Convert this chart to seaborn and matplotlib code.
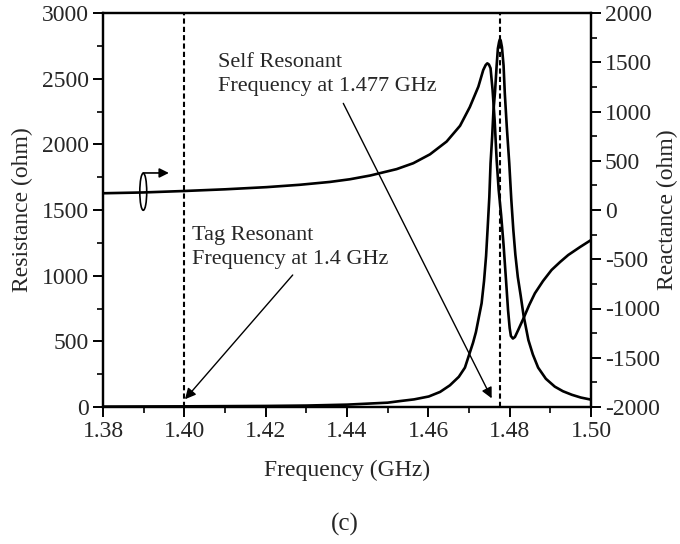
import numpy as np
import pandas as pd
import matplotlib
matplotlib.use("Agg")
import matplotlib.pyplot as plt
from matplotlib.patches import Ellipse
from matplotlib.ticker import MultipleLocator
import seaborn as sns

# ---------------- data ----------------
res_freq = [1.3800, 1.4000, 1.4200, 1.4300, 1.4400, 1.4500, 1.4530, 1.4565,
            1.4601, 1.4629, 1.4653, 1.4675, 1.4690, 1.4700, 1.4710, 1.4717,
            1.4724, 1.4731, 1.4737, 1.4742, 1.4746, 1.4750, 1.4753, 1.4757,
            1.4760, 1.4764, 1.4768, 1.4771, 1.4774, 1.4776, 1.4778, 1.4781,
            1.4785, 1.4788, 1.4793, 1.4799, 1.4804, 1.4809, 1.4814, 1.4820,
            1.4827, 1.4834, 1.4846, 1.4857, 1.4870, 1.4889, 1.4911, 1.4931,
            1.4953, 1.4975, 1.5000]
resistance = [3, 5, 8, 11, 18, 33, 45, 58,
              80, 115, 165, 230, 300, 395, 490, 570,
              680, 790, 960, 1150, 1370, 1600, 1856, 2060,
              2250, 2400, 2600, 2730, 2780, 2800, 2790, 2740,
              2600, 2390, 2130, 1856, 1580, 1348, 1160, 990,
              850, 700, 510, 400, 300, 215, 155, 120,
              93, 72, 56]

rea_freq = [1.3800, 1.3898, 1.4000, 1.4100, 1.4202, 1.4284, 1.4358, 1.4407,
            1.4457, 1.4522, 1.4563, 1.4604, 1.4645, 1.4678, 1.4702, 1.4723,
            1.4735, 1.4741, 1.4745, 1.4749, 1.4753, 1.4758, 1.4763, 1.4768,
            1.4773, 1.4779, 1.4785, 1.4791, 1.4796, 1.4800, 1.4803, 1.4808,
            1.4813, 1.4821, 1.4834, 1.4848, 1.4862, 1.4882, 1.4903, 1.4924,
            1.4944, 1.4973, 1.5000]
reactance = [170, 178, 193, 210, 232, 256, 285, 312,
             350, 415, 475, 565, 695, 855, 1045, 1252,
             1421, 1472, 1489, 1477, 1439, 1218, 914, 508,
             203, -51, -355, -711, -1015, -1198, -1279, -1305,
             -1289, -1218, -1100, -965, -846, -721, -609, -528,
             -457, -376, -305]

tag_freq = 1.400
self_freq = 1.4776

x_ticks = [1.38, 1.40, 1.42, 1.44, 1.46, 1.48, 1.50]
x_tick_labels = ["1.38", "1.40", "1.42", "1.44", "1.46", "1.48", "1.50"]
left_ticks = [0, 500, 1000, 1500, 2000, 2500, 3000]
right_ticks = [-2000, -1500, -1000, -500, 0, 500, 1000, 1500, 2000]

# ---------------- style ----------------
sns.set_style("ticks")
plt.rcParams["font.family"] = ["Liberation Serif", "DejaVu Serif"]
FS = 17
FS_ANN = 16

fig = plt.figure(figsize=(6.8, 5.44), dpi=100)
ax = fig.add_axes([103 / 680, 1 - 407 / 544, (591 - 103) / 680, (407 - 13) / 544])
ax2 = ax.twinx()

df_r = pd.DataFrame({"f": res_freq, "R": resistance})
df_x = pd.DataFrame({"f": rea_freq, "X": reactance})

sns.lineplot(data=df_r, x="f", y="R", ax=ax, color="black", lw=1.9,
             estimator=None, sort=False, legend=False)
sns.lineplot(data=df_x, x="f", y="X", ax=ax2, color="black", lw=1.9,
             estimator=None, sort=False, legend=False)

ax.set_xlim(1.38, 1.50)
ax.set_ylim(0, 3000)
ax2.set_ylim(-2000, 2000)

for xv in (tag_freq, self_freq):
    ax.axvline(xv, color="black", lw=1.5, ls=(0, (2.5, 1.5)), zorder=1)

# ticks
ax.set_xticks(x_ticks)
ax.set_xticklabels(x_tick_labels)
ax.xaxis.set_minor_locator(MultipleLocator(0.01))
ax.set_yticks(left_ticks)
ax.yaxis.set_minor_locator(MultipleLocator(250))
ax2.set_yticks(right_ticks)
ax2.yaxis.set_minor_locator(MultipleLocator(250))

for a in (ax, ax2):
    a.tick_params(which="major", direction="out", length=7, width=1.4,
                  labelsize=FS, pad=3, color="black")
    a.tick_params(which="minor", direction="out", length=4, width=1.2, color="black")
    for s in a.spines.values():
        s.set_visible(True)
        s.set_linewidth(1.6)
        s.set_color("black")
ax.tick_params(top=False, which="both")
ax.tick_params(axis="y", right=False, which="both")
ax2.tick_params(axis="y", left=False, which="both")
ax2.set_yticklabels([str(v) for v in right_ticks])

ax.set_xlabel("")
ax.set_ylabel("")
ax2.set_ylabel("")
fig.text(22 / 680, 1 - 210 / 544, "Resistance (ohm)", fontsize=FS,
         rotation=90, ha="center", va="center")
fig.text(667 / 680, 1 - 210 / 544, "Reactance (ohm)", fontsize=FS,
         rotation=90, ha="center", va="center")
fig.text(347 / 680, 1 - 470 / 544, "Frequency (GHz)", fontsize=FS,
         ha="center", va="center")
fig.text(345 / 680, 1 - 524 / 544, "(c)", fontsize=FS + 1,
         ha="center", va="center")

# annotations
ax.text(1.4083, 2535, "Self Resonant\nFrequency at 1.477 GHz", fontsize=FS_ANN,
        ha="left", va="center", linespacing=1.35)
ax.text(1.4020, 1215, "Tag Resonant\nFrequency at 1.4 GHz", fontsize=FS_ANN,
        ha="left", va="center", linespacing=1.35)

arrow_kw = dict(arrowstyle="-|>", color="black", lw=1.0, mutation_scale=16,
                shrinkA=0, shrinkB=0)
ax.annotate("", xy=(1.40016, 59), xytext=(1.42665, 1005), arrowprops=arrow_kw)
ax.annotate("", xy=(1.47558, 66), xytext=(1.43909, 2312), arrowprops=arrow_kw)

# axis indicator (ellipse with arrow pointing to the right axis)
ax.add_patch(Ellipse((1.3899, 1639), width=0.0017, height=282, fill=False,
                     ec="black", lw=1.2, zorder=5))
ax.annotate("", xy=(1.3962, 1782), xytext=(1.3899, 1782),
            arrowprops=dict(arrowstyle="-|>", color="black", lw=1.2,
                            mutation_scale=14, shrinkA=0, shrinkB=0))

fig.savefig("out.png", dpi=100)
